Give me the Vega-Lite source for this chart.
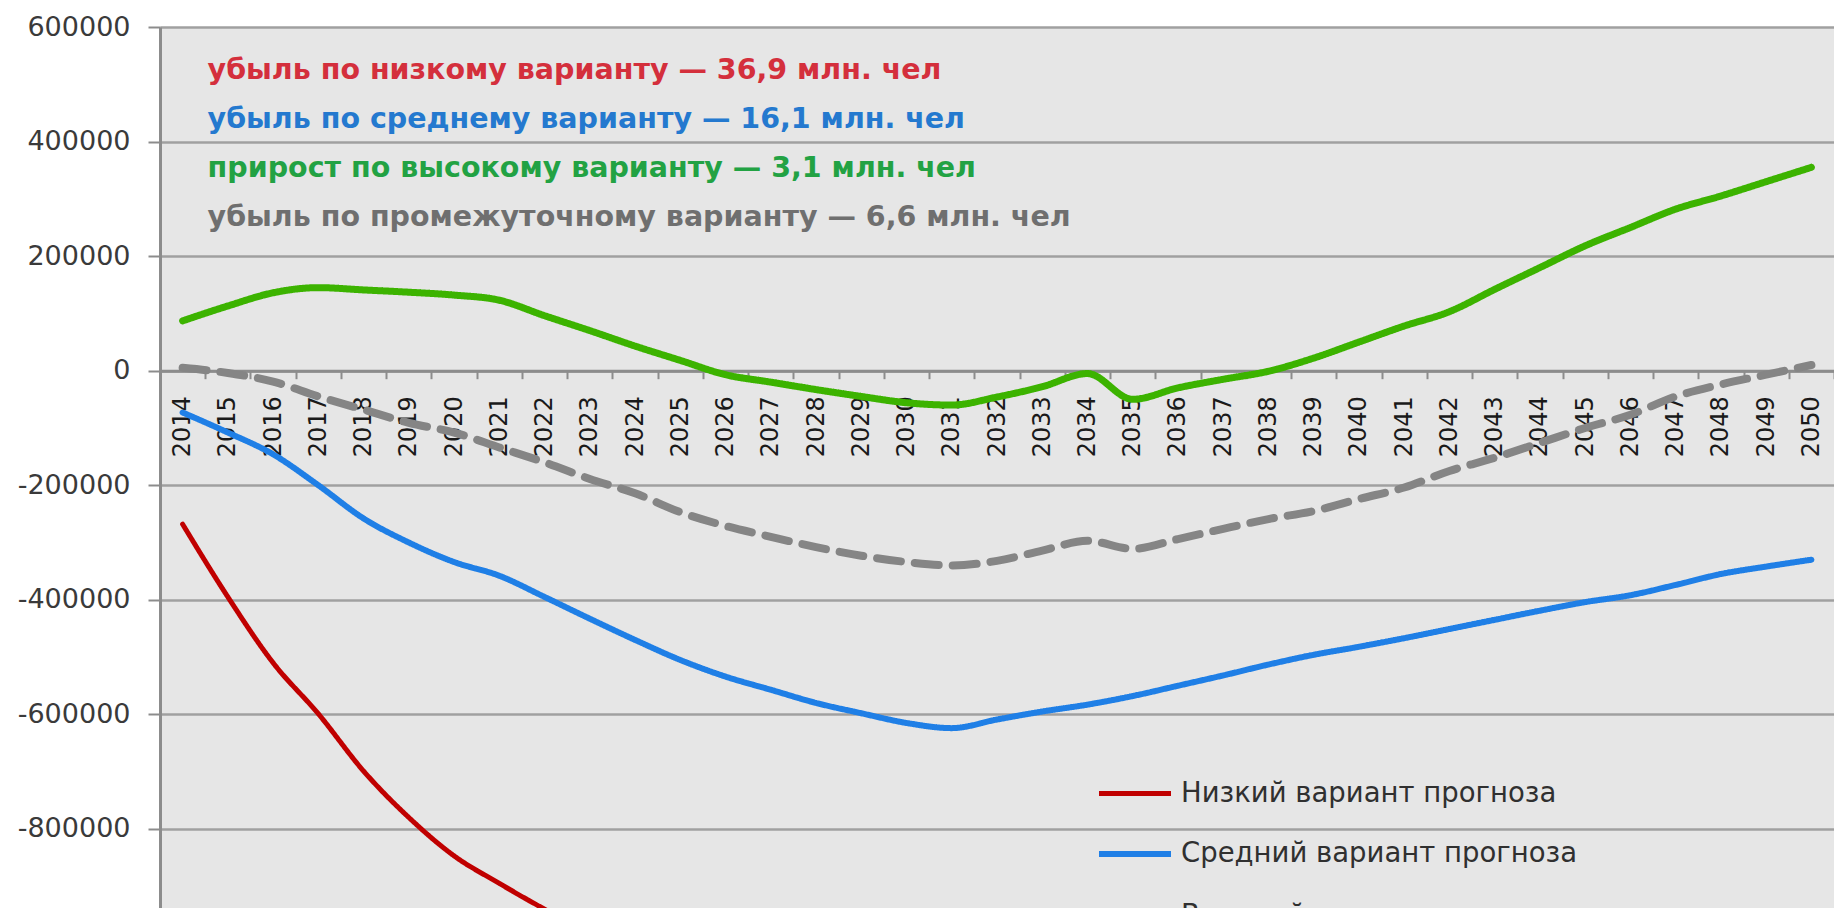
{
  "$schema": "https://vega.github.io/schema/vega-lite/v6.json",
  "autosize": {"type": "none"},
  "width": 1674,
  "height": 881,
  "padding": {"left": 160, "top": 27, "right": 0, "bottom": 0},
  "background": "#ffffff",
  "config": {
    "view": {"fill": "#e6e6e6", "stroke": null},
    "font": "DejaVu Sans",
    "legend": {
      "title": null,
      "orient": "none",
      "legendX": 941,
      "legendY": 734,
      "padding": 0,
      "rowPadding": 14,
      "symbolType": "M-1.2,0L1.2,0",
      "symbolSize": 3600,
      "labelFontSize": 27.5,
      "labelColor": "#303030",
      "labelOffset": 12,
      "labelLimit": 600
    }
  },
  "datasets": {
    "series": [
      {"year": "2014", "variant": "Низкий вариант прогноза", "value": -268000},
      {"year": "2015", "variant": "Низкий вариант прогноза", "value": -395000},
      {"year": "2016", "variant": "Низкий вариант прогноза", "value": -510000},
      {"year": "2017", "variant": "Низкий вариант прогноза", "value": -599000},
      {"year": "2018", "variant": "Низкий вариант прогноза", "value": -699000},
      {"year": "2019", "variant": "Низкий вариант прогноза", "value": -780000},
      {"year": "2020", "variant": "Низкий вариант прогноза", "value": -847000},
      {"year": "2021", "variant": "Низкий вариант прогноза", "value": -895000},
      {"year": "2022", "variant": "Низкий вариант прогноза", "value": -940000},
      {"year": "2023", "variant": "Низкий вариант прогноза", "value": -980000},

      {"year": "2014", "variant": "Средний вариант прогноза", "value": -73000},
      {"year": "2015", "variant": "Средний вариант прогноза", "value": -108000},
      {"year": "2016", "variant": "Средний вариант прогноза", "value": -146000},
      {"year": "2017", "variant": "Средний вариант прогноза", "value": -200000},
      {"year": "2018", "variant": "Средний вариант прогноза", "value": -258000},
      {"year": "2019", "variant": "Средний вариант прогноза", "value": -300000},
      {"year": "2020", "variant": "Средний вариант прогноза", "value": -334000},
      {"year": "2021", "variant": "Средний вариант прогноза", "value": -358000},
      {"year": "2022", "variant": "Средний вариант прогноза", "value": -395000},
      {"year": "2023", "variant": "Средний вариант прогноза", "value": -433000},
      {"year": "2024", "variant": "Средний вариант прогноза", "value": -470000},
      {"year": "2025", "variant": "Средний вариант прогноза", "value": -505000},
      {"year": "2026", "variant": "Средний вариант прогноза", "value": -534000},
      {"year": "2027", "variant": "Средний вариант прогноза", "value": -557000},
      {"year": "2028", "variant": "Средний вариант прогноза", "value": -580000},
      {"year": "2029", "variant": "Средний вариант прогноза", "value": -598000},
      {"year": "2030", "variant": "Средний вариант прогноза", "value": -615000},
      {"year": "2031", "variant": "Средний вариант прогноза", "value": -624000},
      {"year": "2032", "variant": "Средний вариант прогноза", "value": -609000},
      {"year": "2033", "variant": "Средний вариант прогноза", "value": -595000},
      {"year": "2034", "variant": "Средний вариант прогноза", "value": -583000},
      {"year": "2035", "variant": "Средний вариант прогноза", "value": -568000},
      {"year": "2036", "variant": "Средний вариант прогноза", "value": -550000},
      {"year": "2037", "variant": "Средний вариант прогноза", "value": -532000},
      {"year": "2038", "variant": "Средний вариант прогноза", "value": -513000},
      {"year": "2039", "variant": "Средний вариант прогноза", "value": -496000},
      {"year": "2040", "variant": "Средний вариант прогноза", "value": -482000},
      {"year": "2041", "variant": "Средний вариант прогноза", "value": -467000},
      {"year": "2042", "variant": "Средний вариант прогноза", "value": -451000},
      {"year": "2043", "variant": "Средний вариант прогноза", "value": -435000},
      {"year": "2044", "variant": "Средний вариант прогноза", "value": -419000},
      {"year": "2045", "variant": "Средний вариант прогноза", "value": -404000},
      {"year": "2046", "variant": "Средний вариант прогноза", "value": -392000},
      {"year": "2047", "variant": "Средний вариант прогноза", "value": -374000},
      {"year": "2048", "variant": "Средний вариант прогноза", "value": -355000},
      {"year": "2049", "variant": "Средний вариант прогноза", "value": -342000},
      {"year": "2050", "variant": "Средний вариант прогноза", "value": -330000},

      {"year": "2014", "variant": "Высокий вариант прогноза", "value": 87000},
      {"year": "2015", "variant": "Высокий вариант прогноза", "value": 113000},
      {"year": "2016", "variant": "Высокий вариант прогноза", "value": 136000},
      {"year": "2017", "variant": "Высокий вариант прогноза", "value": 145000},
      {"year": "2018", "variant": "Высокий вариант прогноза", "value": 141000},
      {"year": "2019", "variant": "Высокий вариант прогноза", "value": 137000},
      {"year": "2020", "variant": "Высокий вариант прогноза", "value": 132000},
      {"year": "2021", "variant": "Высокий вариант прогноза", "value": 123000},
      {"year": "2022", "variant": "Высокий вариант прогноза", "value": 96000},
      {"year": "2023", "variant": "Высокий вариант прогноза", "value": 70000},
      {"year": "2024", "variant": "Высокий вариант прогноза", "value": 43000},
      {"year": "2025", "variant": "Высокий вариант прогноза", "value": 18000},
      {"year": "2026", "variant": "Высокий вариант прогноза", "value": -7000},
      {"year": "2027", "variant": "Высокий вариант прогноза", "value": -20000},
      {"year": "2028", "variant": "Высокий вариант прогноза", "value": -33000},
      {"year": "2029", "variant": "Высокий вариант прогноза", "value": -45000},
      {"year": "2030", "variant": "Высокий вариант прогноза", "value": -56000},
      {"year": "2031", "variant": "Высокий вариант прогноза", "value": -60000},
      {"year": "2032", "variant": "Высокий вариант прогноза", "value": -46000},
      {"year": "2033", "variant": "Высокий вариант прогноза", "value": -28000},
      {"year": "2034", "variant": "Высокий вариант прогноза", "value": -5000},
      {"year": "2035", "variant": "Высокий вариант прогноза", "value": -50000},
      {"year": "2036", "variant": "Высокий вариант прогноза", "value": -30000},
      {"year": "2037", "variant": "Высокий вариант прогноза", "value": -15000},
      {"year": "2038", "variant": "Высокий вариант прогноза", "value": -1000},
      {"year": "2039", "variant": "Высокий вариант прогноза", "value": 22000},
      {"year": "2040", "variant": "Высокий вариант прогноза", "value": 50000},
      {"year": "2041", "variant": "Высокий вариант прогноза", "value": 78000},
      {"year": "2042", "variant": "Высокий вариант прогноза", "value": 103000},
      {"year": "2043", "variant": "Высокий вариант прогноза", "value": 142000},
      {"year": "2044", "variant": "Высокий вариант прогноза", "value": 180000},
      {"year": "2045", "variant": "Высокий вариант прогноза", "value": 218000},
      {"year": "2046", "variant": "Высокий вариант прогноза", "value": 250000},
      {"year": "2047", "variant": "Высокий вариант прогноза", "value": 282000},
      {"year": "2048", "variant": "Высокий вариант прогноза", "value": 305000},
      {"year": "2049", "variant": "Высокий вариант прогноза", "value": 330000},
      {"year": "2050", "variant": "Высокий вариант прогноза", "value": 355000},

      {"year": "2014", "variant": "Промежуточный вариант прогноза", "value": 5000},
      {"year": "2015", "variant": "Промежуточный вариант прогноза", "value": -4000},
      {"year": "2016", "variant": "Промежуточный вариант прогноза", "value": -19000},
      {"year": "2017", "variant": "Промежуточный вариант прогноза", "value": -45000},
      {"year": "2018", "variant": "Промежуточный вариант прогноза", "value": -68000},
      {"year": "2019", "variant": "Промежуточный вариант прогноза", "value": -91000},
      {"year": "2020", "variant": "Промежуточный вариант прогноза", "value": -108000},
      {"year": "2021", "variant": "Промежуточный вариант прогноза", "value": -134000},
      {"year": "2022", "variant": "Промежуточный вариант прогноза", "value": -160000},
      {"year": "2023", "variant": "Промежуточный вариант прогноза", "value": -189000},
      {"year": "2024", "variant": "Промежуточный вариант прогноза", "value": -214000},
      {"year": "2025", "variant": "Промежуточный вариант прогноза", "value": -247000},
      {"year": "2026", "variant": "Промежуточный вариант прогноза", "value": -271000},
      {"year": "2027", "variant": "Промежуточный вариант прогноза", "value": -290000},
      {"year": "2028", "variant": "Промежуточный вариант прогноза", "value": -308000},
      {"year": "2029", "variant": "Промежуточный вариант прогноза", "value": -323000},
      {"year": "2030", "variant": "Промежуточный вариант прогноза", "value": -334000},
      {"year": "2031", "variant": "Промежуточный вариант прогноза", "value": -340000},
      {"year": "2032", "variant": "Промежуточный вариант прогноза", "value": -332000},
      {"year": "2033", "variant": "Промежуточный вариант прогноза", "value": -314000},
      {"year": "2034", "variant": "Промежуточный вариант прогноза", "value": -297000},
      {"year": "2035", "variant": "Промежуточный вариант прогноза", "value": -311000},
      {"year": "2036", "variant": "Промежуточный вариант прогноза", "value": -294000},
      {"year": "2037", "variant": "Промежуточный вариант прогноза", "value": -276000},
      {"year": "2038", "variant": "Промежуточный вариант прогноза", "value": -259000},
      {"year": "2039", "variant": "Промежуточный вариант прогноза", "value": -245000},
      {"year": "2040", "variant": "Промежуточный вариант прогноза", "value": -224000},
      {"year": "2041", "variant": "Промежуточный вариант прогноза", "value": -204000},
      {"year": "2042", "variant": "Промежуточный вариант прогноза", "value": -175000},
      {"year": "2043", "variant": "Промежуточный вариант прогноза", "value": -152000},
      {"year": "2044", "variant": "Промежуточный вариант прогноза", "value": -126000},
      {"year": "2045", "variant": "Промежуточный вариант прогноза", "value": -100000},
      {"year": "2046", "variant": "Промежуточный вариант прогноза", "value": -77000},
      {"year": "2047", "variant": "Промежуточный вариант прогноза", "value": -45000},
      {"year": "2048", "variant": "Промежуточный вариант прогноза", "value": -24000},
      {"year": "2049", "variant": "Промежуточный вариант прогноза", "value": -7000},
      {"year": "2050", "variant": "Промежуточный вариант прогноза", "value": 10000}
    ]
  },
  "layer": [
    {
      "data": {"name": "series"},
      "mark": {"type": "line", "interpolate": "monotone", "clip": true, "strokeCap": "round", "strokeJoin": "round"},
      "encoding": {
        "x": {
          "field": "year", "type": "ordinal", "bandPosition": 0.5,
          "scale": {"type": "band", "paddingInner": 0, "paddingOuter": 0},
          "axis": {
            "title": null,
            "offset": -537.3,
            "labelAngle": 270,
            "labelFontSize": 24,
            "labelColor": "#1a1a1a",
            "labelPadding": 17,
            "tickBand": "extent",
            "tickSize": 8,
            "tickWidth": 2,
            "tickColor": "#8c8c8c",
            "domainColor": "#8c8c8c",
            "domainWidth": 3,
            "grid": false,
            "zindex": 0
          }
        },
        "y": {
          "field": "value", "type": "quantitative",
          "scale": {"domain": [-938000, 600000], "nice": false, "zero": false},
          "axis": {
            "title": null,
            "values": [-800000, -600000, -400000, -200000, 0, 200000, 400000, 600000],
            "labelExpr": "'' + datum.value",
            "labelFontSize": 27,
            "labelColor": "#3a3a3a",
            "labelPadding": 18,
            "tickSize": 12,
            "tickWidth": 2,
            "tickColor": "#8c8c8c",
            "domainColor": "#8c8c8c",
            "domainWidth": 3,
            "grid": true,
            "gridColor": "#a0a0a0",
            "gridWidth": 2.5,
            "zindex": 0
          }
        },
        "color": {
          "field": "variant", "type": "nominal",
          "scale": {
            "domain": ["Низкий вариант прогноза", "Средний вариант прогноза", "Высокий вариант прогноза", "Промежуточный вариант прогноза"],
            "range": ["#c00000", "#1f7fe6", "#3cb300", "#858585"]
          }
        },
        "strokeWidth": {
          "field": "variant", "type": "nominal",
          "scale": {
            "domain": ["Низкий вариант прогноза", "Средний вариант прогноза", "Высокий вариант прогноза", "Промежуточный вариант прогноза"],
            "range": [5, 8, 10, 4.5]
          }
        },
        "strokeDash": {
          "field": "variant", "type": "nominal",
          "scale": {
            "domain": ["Низкий вариант прогноза", "Средний вариант прогноза", "Высокий вариант прогноза", "Промежуточный вариант прогноза"],
            "range": [[1, 0], [1, 0], [1, 0], [24, 14]]
          }
        }
      }
    },
    {
      "data": {"values": [{"note": "убыль по низкому варианту — 36,9 млн. чел"}]},
      "mark": {"type": "text", "align": "left", "baseline": "middle", "dx": 25, "fontSize": 28.5, "fontWeight": "bold", "font": "DejaVu Sans", "color": "#d42f3c"},
      "encoding": {
        "x": {"datum": "2014", "bandPosition": 0.5},
        "y": {"datum": 525000},
        "text": {"field": "note"}
      }
    },
    {
      "data": {"values": [{"note": "убыль по среднему варианту — 16,1 млн. чел"}]},
      "mark": {"type": "text", "align": "left", "baseline": "middle", "dx": 25, "fontSize": 28.5, "fontWeight": "bold", "font": "DejaVu Sans", "color": "#2479cf"},
      "encoding": {
        "x": {"datum": "2014", "bandPosition": 0.5},
        "y": {"datum": 440000},
        "text": {"field": "note"}
      }
    },
    {
      "data": {"values": [{"note": "прирост по высокому варианту — 3,1 млн. чел"}]},
      "mark": {"type": "text", "align": "left", "baseline": "middle", "dx": 25, "fontSize": 28.5, "fontWeight": "bold", "font": "DejaVu Sans", "color": "#22a243"},
      "encoding": {
        "x": {"datum": "2014", "bandPosition": 0.5},
        "y": {"datum": 353000},
        "text": {"field": "note"}
      }
    },
    {
      "data": {"values": [{"note": "убыль по промежуточному варианту — 6,6 млн. чел"}]},
      "mark": {"type": "text", "align": "left", "baseline": "middle", "dx": 25, "fontSize": 28.5, "fontWeight": "bold", "font": "DejaVu Sans", "color": "#6f6f6f"},
      "encoding": {
        "x": {"datum": "2014", "bandPosition": 0.5},
        "y": {"datum": 269000},
        "text": {"field": "note"}
      }
    }
  ]
}
